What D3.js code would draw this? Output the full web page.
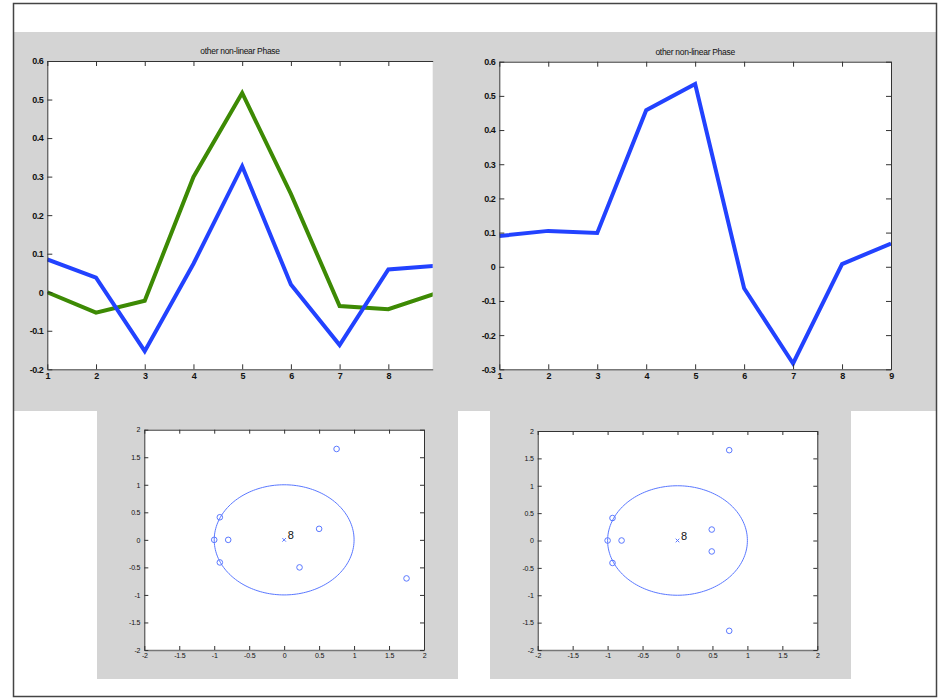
<!DOCTYPE html>
<html>
<head>
<meta charset="utf-8">
<script src="https://cdn.jsdelivr.net/npm/d3@7"></script>
<style>
  body { margin: 0; background: #fff; }
  svg { display: block; }
  text { font-family: "Liberation Sans", Arial, sans-serif; fill: #111; }
</style>
</head>
<body>
<svg id="chart" width="943" height="699"></svg>
<script>
// ---------- data ----------
const xCats = [1, 2, 3, 4, 5, 6, 7, 8, 9];
const leftBlue  = [0.085, 0.038, -0.153, 0.074, 0.327, 0.020, -0.137, 0.059, 0.069];
const leftGreen = [0.000, -0.053, -0.022, 0.299, 0.517, 0.255, -0.036, -0.044, -0.002];
const rightBlue = [0.090, 0.105, 0.099, 0.458, 0.535, -0.063, -0.283, 0.008, 0.068];

const titleText = "other non-linear Phase";
const leftYTicks  = [-0.2, -0.1, 0, 0.1, 0.2, 0.3, 0.4, 0.5, 0.6];
const rightYTicks = [-0.3, -0.2, -0.1, 0, 0.1, 0.2, 0.3, 0.4, 0.5, 0.6];
const leftXTicks  = [1, 2, 3, 4, 5, 6, 7, 8];
const rightXTicks = [1, 2, 3, 4, 5, 6, 7, 8, 9];

// pole-zero plots
const leftZerosRe  = [-1.0, -0.8, -0.92, -0.92, 0.5, 0.22, 0.75, 1.75];
const leftZerosIm  = [0.0, 0.0, 0.41, -0.41, 0.2, -0.5, 1.65, -0.7];
const rightZerosRe = [-1.0, -0.8, -0.93, -0.93, 0.49, 0.49, 0.74, 0.74];
const rightZerosIm = [0.0, 0.0, 0.41, -0.41, 0.2, -0.2, 1.65, -1.65];
const polesRe = [0];
const polesIm = [0];
const poleLabel = "8";
const pzTicks = [-2, -1.5, -1, -0.5, 0, 0.5, 1, 1.5, 2];

// ---------- drawing ----------
const svg = d3.select("#chart");
const GRAY = "#d4d4d4";
const AX = "#333";
const BLUE = "#2242ff";
const GREEN = "#3d8a04";
const PZ = "#5a78ff";

const fmt = v => { const s = String(+v.toFixed(2)); return s === "-0" ? "0" : s; };

// background panels
svg.append("rect").attr("x", 0).attr("y", 0).attr("width", 943).attr("height", 699).attr("fill", "#fff");
svg.append("rect").attr("x", 14).attr("y", 32).attr("width", 922).attr("height", 379).attr("fill", GRAY);
svg.append("rect").attr("x", 97).attr("y", 411).attr("width", 361).attr("height", 268).attr("fill", GRAY);
svg.append("rect").attr("x", 490).attr("y", 411).attr("width", 361).attr("height", 268).attr("fill", GRAY);
svg.append("rect").attr("x", 13.5).attr("y", 3.5).attr("width", 923).attr("height", 693)
  .attr("fill", "none").attr("stroke", "#444").attr("stroke-width", 1.5);

function styleAxis(g, fontSize, bold) {
  g.selectAll(".domain").attr("stroke", AX).attr("stroke-width", 1);
  g.selectAll(".tick line").attr("stroke", AX);
  g.selectAll(".tick text").attr("font-size", fontSize).attr("fill", "#222")
    .attr("font-weight", bold ? "bold" : "normal").attr("letter-spacing", bold ? -0.5 : -0.2)
    .attr("font-family", "'Liberation Sans', Arial, sans-serif");
}

function linePanel(opt) {
  const { left, top, right, bottom, xDom, yDom, yTicks, xTicks, series, rightAxis, id } = opt;
  const x = d3.scaleLinear().domain(xDom).range([left, right]);
  const y = d3.scaleLinear().domain(yDom).range([bottom, top]);
  const g = svg.append("g");
  g.append("rect").attr("x", left).attr("y", top).attr("width", right - left).attr("height", bottom - top).attr("fill", "#fff");

  g.append("clipPath").attr("id", id).append("rect")
    .attr("x", left).attr("y", top - 5).attr("width", right - left).attr("height", bottom - top + 10);

  const line = d3.line().x((d, i) => x(xCats[i])).y(d => y(d));
  series.forEach(s => {
    g.append("path").datum(s.values).attr("d", line).attr("fill", "none")
      .attr("stroke", s.color).attr("stroke-width", 4).attr("stroke-linejoin", "miter")
      .attr("clip-path", `url(#${id})`);
  });

  const fs = 9;
  const ax = g.append("g").attr("transform", `translate(0,${bottom})`)
    .call(d3.axisBottom(x).tickValues(xTicks).tickFormat(fmt).tickSizeInner(-5).tickSizeOuter(0).tickPadding(3));
  styleAxis(ax, fs, true);
  ax.select(".domain").attr("stroke", "#777").attr("stroke-width", 1.5);
  const ay = g.append("g").attr("transform", `translate(${left},0)`)
    .call(d3.axisLeft(y).tickValues(yTicks).tickFormat(fmt).tickSizeInner(-5).tickSizeOuter(0).tickPadding(4));
  styleAxis(ay, fs, true);
  const at = g.append("g").attr("transform", `translate(0,${top})`)
    .call(d3.axisTop(x).tickValues(xTicks).tickFormat("").tickSizeInner(-5).tickSizeOuter(0));
  styleAxis(at, fs, true);
  if (rightAxis) {
    const ar = g.append("g").attr("transform", `translate(${right},0)`)
      .call(d3.axisRight(y).tickValues(yTicks).tickFormat("").tickSizeInner(-5).tickSizeOuter(0));
    styleAxis(ar, fs, true);
  }
  g.append("text").attr("x", (left + right) / 2).attr("y", top - 7)
    .attr("text-anchor", "middle").attr("font-size", 8.5).attr("letter-spacing", -0.3)
    .attr("fill", "#222").text(titleText);
}

linePanel({
  id: "clipL", left: 47.3, top: 61, right: 432.7, bottom: 369.3,
  xDom: [1, 1 + (432.7 - 47.3) / 48.72], yDom: [-0.2, 0.6],
  yTicks: leftYTicks, xTicks: leftXTicks, rightAxis: false,
  series: [{ values: leftGreen, color: GREEN }, { values: leftBlue, color: BLUE }]
});
linePanel({
  id: "clipR", left: 499.3, top: 61.7, right: 891, bottom: 369.3,
  xDom: [1, 9], yDom: [-0.3, 0.6],
  yTicks: rightYTicks, xTicks: rightXTicks, rightAxis: true,
  series: [{ values: rightBlue, color: BLUE }]
});

function pzPanel(opt) {
  const { left, top, right, bottom, re, im } = opt;
  const x = d3.scaleLinear().domain([-2, 2]).range([left, right]);
  const y = d3.scaleLinear().domain([-2, 2]).range([bottom, top]);
  const g = svg.append("g");
  g.append("rect").attr("x", left).attr("y", top).attr("width", right - left).attr("height", bottom - top).attr("fill", "#fff");

  // unit circle
  const circ = d3.range(0, 361, 2).map(a => [Math.cos(a * Math.PI / 180), Math.sin(a * Math.PI / 180)]);
  g.append("path").datum(circ).attr("d", d3.line().x(d => x(d[0])).y(d => y(d[1])))
    .attr("fill", "none").attr("stroke", PZ).attr("stroke-width", 1);

  // zeros
  g.selectAll(null).data(re).enter().append("circle")
    .attr("cx", d => x(d)).attr("cy", (d, i) => y(im[i])).attr("r", 2.8)
    .attr("fill", "none").attr("stroke", PZ).attr("stroke-width", 1);

  // poles
  polesRe.forEach((p, i) => {
    const cx = x(p), cy = y(polesIm[i]), s = 1.8;
    g.append("path").attr("d", `M${cx - s},${cy - s}L${cx + s},${cy + s}M${cx - s},${cy + s}L${cx + s},${cy - s}`)
      .attr("stroke", PZ).attr("stroke-width", 1);
    g.append("text").attr("x", cx + 3.5).attr("y", cy - 0.5).attr("font-size", 11).text(poleLabel);
  });

  const fs = 7;
  const ax = g.append("g").attr("transform", `translate(0,${bottom})`)
    .call(d3.axisBottom(x).tickValues(pzTicks).tickFormat(fmt).tickSizeInner(-4).tickSizeOuter(0).tickPadding(3));
  styleAxis(ax, fs, false);
  ax.select(".domain").attr("stroke", "#777").attr("stroke-width", 1.3);
  const ay = g.append("g").attr("transform", `translate(${left},0)`)
    .call(d3.axisLeft(y).tickValues(pzTicks).tickFormat(fmt).tickSizeInner(-4).tickSizeOuter(0).tickPadding(4));
  styleAxis(ay, fs, false);
  const at = g.append("g").attr("transform", `translate(0,${top})`)
    .call(d3.axisTop(x).tickValues(pzTicks).tickFormat("").tickSizeInner(-4).tickSizeOuter(0));
  styleAxis(at, fs, false);
  const ar = g.append("g").attr("transform", `translate(${right},0)`)
    .call(d3.axisRight(y).tickValues(pzTicks).tickFormat("").tickSizeInner(-4).tickSizeOuter(0));
  styleAxis(ar, fs, false);
}

pzPanel({ left: 144.3, top: 429.7, right: 424, bottom: 650, re: leftZerosRe, im: leftZerosIm });
pzPanel({ left: 537.7, top: 431, right: 817.3, bottom: 650, re: rightZerosRe, im: rightZerosIm });
</script>
</body>
</html>
